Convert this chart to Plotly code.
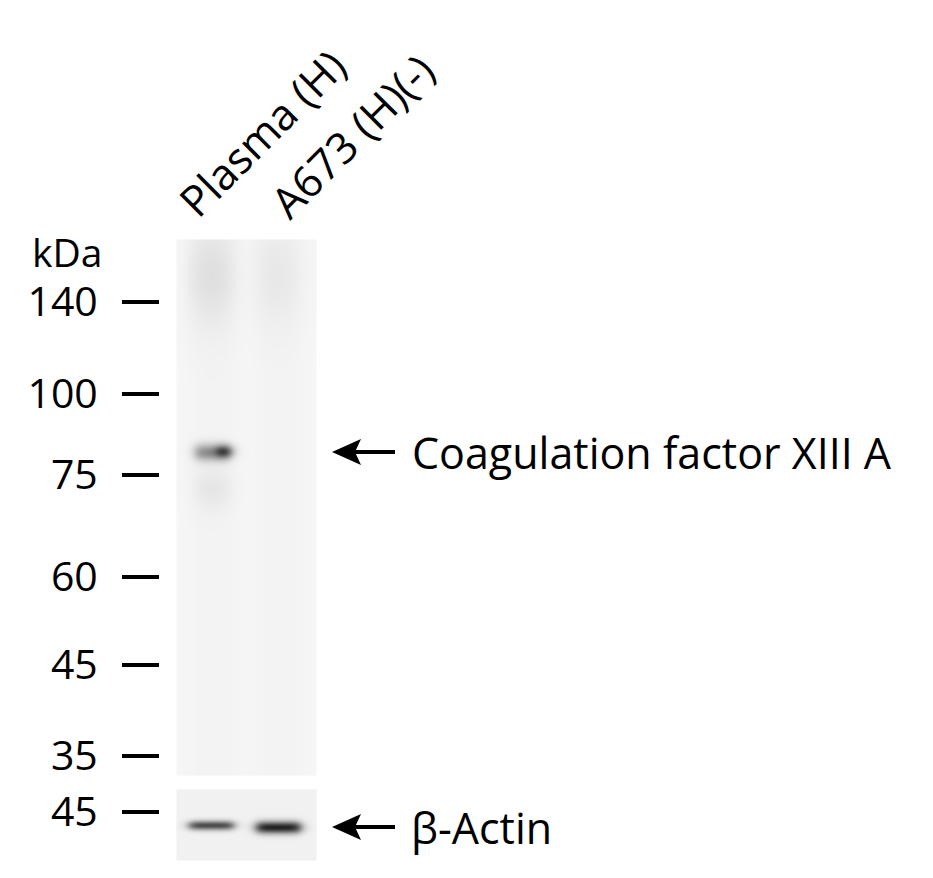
import numpy as np
import plotly.graph_objects as go

lanes = ["Plasma (H)", "A673 (H)(-)"]
marker_labels = ["140", "100", "75", "60", "45", "35"]
control_marker = "45"
target_name = "Coagulation factor XIII A"
control_name = "β-Actin"

target_signal = [0.88, 0.0]     # FXIII-A band, ~80 kDa
low_smear = [0.06, 0.0]         # faint smear just under the band
top_smear = [0.09, 0.05]        # high-MW haze at top of the lanes
control_signal = [0.72, 0.9]    # beta-actin

# layout in pixels
W, H = 933, 878
marker_rows = [302, 394, 475, 577, 665, 756]
control_row = 812
lane_cols = [213, 279]
lane_label_pos = [(163, 231), (255, 233)]
main_box = (177, 316, 240, 775)
ctrl_box = (177, 316, 790, 860)
target_row, ctrl_rows = 452, [825, 827]
FONT = "Open Sans"
FS = 41
FS_TXT = 43


def hprof(X, xc, hw, soft=3.0):
    return 1 / (1 + np.exp(-(X - (xc - hw)) / soft)) / (1 + np.exp((X - (xc + hw)) / soft))


def vprof(Y, yc, sy):
    return np.exp(-0.5 * ((Y - yc) / sy) ** 2)


# main panel
xs = np.arange(main_box[0], main_box[1] + 1)
ys = np.arange(main_box[2], main_box[3] + 1)
X, Y = np.meshgrid(xs, ys)
z = np.zeros_like(X, dtype=float)
for i, xc in enumerate(lane_cols):
    s = target_signal[i]
    z += 0.5 * s * hprof(X, xc - 1, 17) * vprof(Y, target_row, 6)
    z += 0.55 * s * hprof(X, xc + 11, 7) * vprof(Y, target_row - 1, 4.5)
    z += low_smear[i] * hprof(X, xc - 1, 16, 5) * vprof(Y, target_row + 36, 15)
    z += top_smear[i] * hprof(X, xc - 2, 20, 6) * vprof(Y, 275, 35)
    z += 0.015 * hprof(X, xc, 22, 6)
z = np.clip(z, 0, 1)

# control panel
xs2 = np.arange(ctrl_box[0], ctrl_box[1] + 1)
ys2 = np.arange(ctrl_box[2], ctrl_box[3] + 1)
X2, Y2 = np.meshgrid(xs2, ys2)
z2 = np.full(X2.shape, 0.02)
for i, xc in enumerate(lane_cols):
    sy = 3.3 if i == 0 else 4.3
    z2 += control_signal[i] * hprof(X2, xc - 2 + i, 22) * vprof(Y2, ctrl_rows[i], sy)
z2 = np.clip(z2, 0, 1)

gray = [[0, "rgb(246,246,246)"], [1, "rgb(15,15,15)"]]

fig = go.Figure()
for xx, yy, zz in [(xs, ys, z), (xs2, ys2, z2)]:
    fig.add_trace(go.Heatmap(x=xx, y=yy, z=zz, colorscale=gray, zmin=0, zmax=1,
                             showscale=False, hoverinfo="skip"))

shapes = []
for row in [target_row, ctrl_rows[1]]:
    shapes.append(dict(type="line", x0=352, x1=395, y0=row, y1=row,
                       line=dict(color="black", width=4)))
    shapes.append(dict(type="path",
                       path=f"M332,{row} L361,{row-13} L355,{row} L361,{row+13} Z",
                       fillcolor="black", line=dict(width=0)))

annotations = [
    dict(x=104, y=251, text="kDa", xanchor="right", yanchor="middle", showarrow=False,
         font=dict(size=39)),
    dict(x=410, y=target_row, text=target_name, xanchor="left", yanchor="middle",
         showarrow=False, font=dict(size=FS_TXT)),
    dict(x=409, y=ctrl_rows[1], text=control_name, xanchor="left", yanchor="middle",
         showarrow=False, font=dict(size=FS_TXT)),
]
for name, (lx, ly) in zip(lanes, lane_label_pos):
    annotations.append(dict(x=lx, y=ly, text=name, textangle=-45,
                            xanchor="left", yanchor="bottom", showarrow=False,
                            font=dict(size=FS_TXT)))

fig.update_layout(
    width=W, height=H, margin=dict(l=0, r=0, t=0, b=0),
    paper_bgcolor="white", plot_bgcolor="white",
    font=dict(family=FONT, size=FS, color="black"),
    showlegend=False, hovermode=False,
    shapes=shapes, annotations=annotations,
    xaxis=dict(range=[0, W], visible=False, fixedrange=True),
    yaxis=dict(range=[H, 0], anchor="free", position=159 / W,
               tickvals=marker_rows + [control_row],
               ticktext=marker_labels + [control_marker],
               ticks="outside", ticklen=37, tickwidth=4, tickcolor="black",
               ticklabelstandoff=16, tickfont=dict(family=FONT, size=FS),
               showline=False, showgrid=False, zeroline=False, fixedrange=True),
)

fig.write_html("out.html", config={"displayModeBar": False},
               post_script="document.body.style.margin='0';")
